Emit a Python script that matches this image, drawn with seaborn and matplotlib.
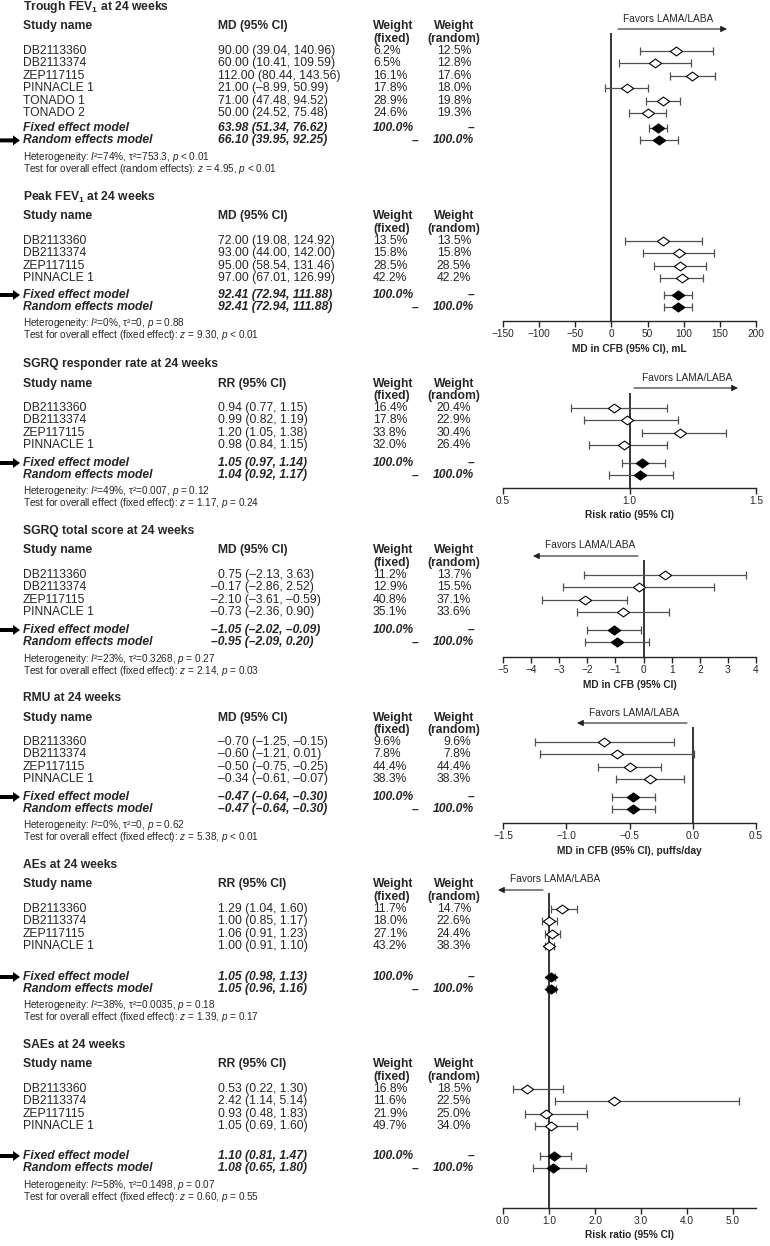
import numpy as np
import pandas as pd
import matplotlib
matplotlib.use("Agg")
import matplotlib.pyplot as plt
import seaborn as sns
from matplotlib.path import Path
from matplotlib.patches import FancyArrow

sns.set_style("ticks")
plt.rcParams["font.family"] = ["Liberation Sans", "DejaVu Sans"]
plt.rcParams["mathtext.fontset"] = "custom"
plt.rcParams["mathtext.rm"] = "Liberation Sans"
plt.rcParams["mathtext.it"] = "Liberation Sans:italic"
plt.rcParams["mathtext.bf"] = "Liberation Sans:bold"

# ---------------------------
# Data
# ---------------------------
studies4 = ["DB2113360", "DB2113374", "ZEP117115", "PINNACLE 1"]
studies6 = studies4 + ["TONADO 1", "TONADO 2"]

trough_est = [90.00, 60.00, 112.00, 21.00, 71.00, 50.00]
trough_lo = [39.04, 10.41, 80.44, -8.99, 47.48, 24.52]
trough_hi = [140.96, 109.59, 143.56, 50.99, 94.52, 75.48]
trough_wf = [6.2, 6.5, 16.1, 17.8, 28.9, 24.6]
trough_wr = [12.5, 12.8, 17.6, 18.0, 19.8, 19.3]
trough_pool = [(63.98, 51.34, 76.62), (66.10, 39.95, 92.25)]

peak_est = [72.00, 93.00, 95.00, 97.00]
peak_lo = [19.08, 44.00, 58.54, 67.01]
peak_hi = [124.92, 142.00, 131.46, 126.99]
peak_wf = [13.5, 15.8, 28.5, 42.2]
peak_wr = [13.5, 15.8, 28.5, 42.2]
peak_pool = [(92.41, 72.94, 111.88), (92.41, 72.94, 111.88)]

resp_est = [0.94, 0.99, 1.20, 0.98]
resp_lo = [0.77, 0.82, 1.05, 0.84]
resp_hi = [1.15, 1.19, 1.38, 1.15]
resp_wf = [16.4, 17.8, 33.8, 32.0]
resp_wr = [20.4, 22.9, 30.4, 26.4]
resp_pool = [(1.05, 0.97, 1.14), (1.04, 0.92, 1.17)]

sgrq_est = [0.75, -0.17, -2.10, -0.73]
sgrq_lo = [-2.13, -2.86, -3.61, -2.36]
sgrq_hi = [3.63, 2.52, -0.59, 0.90]
sgrq_wf = [11.2, 12.9, 40.8, 35.1]
sgrq_wr = [13.7, 15.5, 37.1, 33.6]
sgrq_pool = [(-1.05, -2.02, -0.09), (-0.95, -2.09, 0.20)]

rmu_est = [-0.70, -0.60, -0.50, -0.34]
rmu_lo = [-1.25, -1.21, -0.75, -0.61]
rmu_hi = [-0.15, 0.01, -0.25, -0.07]
rmu_wf = [9.6, 7.8, 44.4, 38.3]
rmu_wr = [9.6, 7.8, 44.4, 38.3]
rmu_pool = [(-0.47, -0.64, -0.30), (-0.47, -0.64, -0.30)]

ae_est = [1.29, 1.00, 1.06, 1.00]
ae_lo = [1.04, 0.85, 0.91, 0.91]
ae_hi = [1.60, 1.17, 1.23, 1.10]
ae_wf = [11.7, 18.0, 27.1, 43.2]
ae_wr = [14.7, 22.6, 24.4, 38.3]
ae_pool = [(1.05, 0.98, 1.13), (1.05, 0.96, 1.16)]

sae_est = [0.53, 2.42, 0.93, 1.05]
sae_lo = [0.22, 1.14, 0.48, 0.69]
sae_hi = [1.30, 5.14, 1.83, 1.60]
sae_wf = [16.8, 11.6, 21.9, 49.7]
sae_wr = [18.5, 22.5, 25.0, 34.0]
sae_pool = [(1.10, 0.81, 1.47), (1.08, 0.65, 1.80)]

titles = [
    r"Trough FEV$_\mathbf{1}$ at 24 weeks",
    r"Peak FEV$_\mathbf{1}$ at 24 weeks",
    "SGRQ responder rate at 24 weeks",
    "SGRQ total score at 24 weeks",
    "RMU at 24 weeks",
    "AEs at 24 weeks",
    "SAEs at 24 weeks",
]
measures = ["MD (95% CI)", "MD (95% CI)", "RR (95% CI)", "MD (95% CI)",
            "MD (95% CI)", "RR (95% CI)", "RR (95% CI)"]
heterogeneity = [
    r"Heterogeneity: $I$²=74%, τ²=753.3, $p$ < 0.01",
    r"Heterogeneity: $I$²=0%, τ²=0, $p$ = 0.88",
    r"Heterogeneity: $I$²=49%, τ²=0.007, $p$ = 0.12",
    r"Heterogeneity: $I$²=23%, τ²=0.3268, $p$ = 0.27",
    r"Heterogeneity: $I$²=0%, τ²=0, $p$ = 0.62",
    r"Heterogeneity: $I$²=38%, τ²=0.0035, $p$ = 0.18",
    r"Heterogeneity: $I$²=58%, τ²=0.1498, $p$ = 0.07",
]
overall = [
    r"Test for overall effect (random effects): $z$ = 4.95, $p$ < 0.01",
    r"Test for overall effect (fixed effect): $z$ = 9.30, $p$ < 0.01",
    r"Test for overall effect (fixed effect): $z$ = 1.17, $p$ = 0.24",
    r"Test for overall effect (fixed effect): $z$ = 2.14, $p$ = 0.03",
    r"Test for overall effect (fixed effect): $z$ = 5.38, $p$ < 0.01",
    r"Test for overall effect (fixed effect): $z$ = 1.39, $p$ = 0.17",
    r"Test for overall effect (fixed effect): $z$ = 0.60, $p$ = 0.55",
]

sections = [
    dict(names=studies6, est=trough_est, lo=trough_lo, hi=trough_hi, wf=trough_wf, wr=trough_wr, pool=trough_pool),
    dict(names=studies4, est=peak_est, lo=peak_lo, hi=peak_hi, wf=peak_wf, wr=peak_wr, pool=peak_pool),
    dict(names=studies4, est=resp_est, lo=resp_lo, hi=resp_hi, wf=resp_wf, wr=resp_wr, pool=resp_pool),
    dict(names=studies4, est=sgrq_est, lo=sgrq_lo, hi=sgrq_hi, wf=sgrq_wf, wr=sgrq_wr, pool=sgrq_pool),
    dict(names=studies4, est=rmu_est, lo=rmu_lo, hi=rmu_hi, wf=rmu_wf, wr=rmu_wr, pool=rmu_pool),
    dict(names=studies4, est=ae_est, lo=ae_lo, hi=ae_hi, wf=ae_wf, wr=ae_wr, pool=ae_pool),
    dict(names=studies4, est=sae_est, lo=sae_lo, hi=sae_hi, wf=sae_wf, wr=sae_wr, pool=sae_pool),
]

# layout (pixels from top)
sec_top = [7, 197, 364, 531, 698, 865, 1045]
sec_fixed = [128, 295, 463, 630, 797, 977, 1156]
arrow_row = ["random", "fixed", "fixed", "fixed", "fixed", "fixed", "fixed"]
ROW = 12.4

W, H = 770, 1246
fig = plt.figure(figsize=(W / 100, H / 100), dpi=100)
tax = fig.add_axes([0, 0, 1, 1])
tax.set_xlim(0, W)
tax.set_ylim(H, 0)
tax.axis("off")

FS = 8.7
FS_SMALL = 7.2


def fmt(v):
    return f"{v:.2f}".replace("-", "–")


def ci_text(e, l, h):
    return f"{fmt(e)} ({fmt(l)}, {fmt(h)})"


def row_ys(i):
    n = len(sections[i]["names"])
    ys = [sec_top[i] + 44 + ROW * k for k in range(n)]
    return ys, sec_fixed[i], sec_fixed[i] + ROW


# ---------------------------
# Left table
# ---------------------------
for i, s in enumerate(sections):
    top = sec_top[i]
    ys, yf, yr = row_ys(i)
    mixed = min(s["est"]) < 0 < max(s["est"])
    tax.text(23, top, titles[i], fontsize=FS, fontweight="bold", va="center")
    hy = top + 19.5
    tax.text(23, hy, "Study name", fontsize=FS, fontweight="bold", va="center")
    tax.text(218, hy, measures[i], fontsize=FS, fontweight="bold", va="center")
    tax.text(373, hy, "Weight", fontsize=FS, fontweight="bold", va="center")
    tax.text(454, hy, "Weight", fontsize=FS, fontweight="bold", va="center", ha="center")
    tax.text(373, hy + 12.5, "(fixed)", fontsize=FS, fontweight="bold", va="center")
    tax.text(454, hy + 12.5, "(random)", fontsize=FS, fontweight="bold", va="center", ha="center")

    for k, name in enumerate(s["names"]):
        e = s["est"][k]
        x_md = 211 if (mixed and e < 0) else 218
        tax.text(23, ys[k], name, fontsize=FS, va="center")
        tax.text(x_md, ys[k], ci_text(e, s["lo"][k], s["hi"][k]), fontsize=FS, va="center")
        tax.text(373, ys[k], f"{s['wf'][k]:.1f}%", fontsize=FS, va="center")
        tax.text(471, ys[k], f"{s['wr'][k]:.1f}%", fontsize=FS, va="center", ha="right")

    bi = dict(fontsize=FS, fontweight="bold", fontstyle="italic", va="center")
    (fe, fl, fh), (re_, rl, rh) = s["pool"]
    x_f = 211 if (mixed and fe < 0) else 218
    x_r = 211 if (mixed and re_ < 0) else 218
    tax.text(23, yf, "Fixed effect model", **bi)
    tax.text(x_f, yf, ci_text(fe, fl, fh), **bi)
    tax.text(373, yf, "100.0%", **bi)
    tax.text(474, yf, "–", ha="right", **bi)
    tax.text(23, yr, "Random effects model", **bi)
    tax.text(x_r, yr, ci_text(re_, rl, rh), **bi)
    tax.text(415, yr, "–", ha="center", **bi)
    tax.text(474, yr, "100.0%", ha="right", **bi)

    tax.text(23, yf + 28.5, heterogeneity[i], fontsize=FS_SMALL, va="center")
    tax.text(23, yf + 40.5, overall[i], fontsize=FS_SMALL, va="center")

    ay = yr if arrow_row[i] == "random" else yf
    tax.add_patch(FancyArrow(0, ay, 20, 0, width=4, head_width=10, head_length=7,
                             length_includes_head=True, color="black", lw=0))

# ---------------------------
# Forest panels
# ---------------------------
panels = [
    dict(secs=[0, 1], xlim=(-150, 200), ticks=list(range(-150, 201, 50)), dec=0, ref=0,
         label="MD in CFB (95% CI), mL", top=33, spine=321,
         fav=(668, 19, 618, 727, 29)),
    dict(secs=[2], xlim=(0.5, 1.5), ticks=[0.5, 1.0, 1.5], dec=1, ref=1,
         label="Risk ratio (95% CI)", top=393, spine=488,
         fav=(687, 378, 634, 738, 388)),
    dict(secs=[3], xlim=(-5, 4), ticks=list(range(-5, 5)), dec=0, ref=0,
         label="MD in CFB (95% CI)", top=560, spine=657,
         fav=(590, 545, 638, 533, 556)),
    dict(secs=[4], xlim=(-1.5, 0.5), ticks=[-1.5, -1.0, -0.5, 0.0, 0.5], dec=1, ref=0,
         label="MD in CFB (95% CI), puffs/day", top=727, spine=823,
         fav=(634, 713, 687, 577, 723)),
    dict(secs=[5, 6], xlim=(0, 5.5), ticks=[0, 1, 2, 3, 4, 5], dec=1, ref=1,
         label="Risk ratio (95% CI)", top=893, spine=1208,
         fav=(555, 879, 543, 498, 890)),
]

diamond = Path([(-1, 0), (0, 0.72), (1, 0), (0, -0.72), (-1, 0)],
               [Path.MOVETO, Path.LINETO, Path.LINETO, Path.LINETO, Path.CLOSEPOLY])

X0, X1 = 503, 756
for p in panels:
    ax = fig.add_axes([X0 / W, 1 - p["spine"] / H, (X1 - X0) / W, (p["spine"] - p["top"]) / H])
    ax.set_facecolor("none")
    ax.set_xlim(*p["xlim"])
    ax.set_ylim(p["spine"], p["top"])

    study_rows, pooled_rows = [], []
    for i in p["secs"]:
        s = sections[i]
        ys, yf, yr = row_ys(i)
        for k in range(len(s["names"])):
            study_rows.append((s["est"][k], s["lo"][k], s["hi"][k], ys[k]))
        for (e, l, h), y in zip(s["pool"], [yf, yr]):
            pooled_rows.append((e, l, h, y))
    sdf = pd.DataFrame(study_rows, columns=["est", "lo", "hi", "y"])
    pdf = pd.DataFrame(pooled_rows, columns=["est", "lo", "hi", "y"])

    for df in (sdf, pdf):
        ax.errorbar(df["est"], df["y"], xerr=[df["est"] - df["lo"], df["hi"] - df["est"]],
                    fmt="none", ecolor="#505050", elinewidth=0.9, capsize=3.2, capthick=0.9, zorder=2)
    ax.axvline(p["ref"], color="black", lw=1.1, zorder=1)
    sns.scatterplot(data=sdf, x="est", y="y", ax=ax, marker=diamond, s=78,
                    color="white", edgecolor="black", linewidth=0.8, zorder=3)
    sns.scatterplot(data=pdf, x="est", y="y", ax=ax, marker=diamond, s=82,
                    color="black", edgecolor="black", linewidth=0.8, zorder=3)

    ax.set_ylim(p["spine"], p["top"])
    ax.set_yticks([])
    ax.set_ylabel("")
    for sp in ["left", "right", "top"]:
        ax.spines[sp].set_visible(False)
    ax.spines["bottom"].set_linewidth(1.0)
    ax.set_xticks(p["ticks"])
    if p["dec"]:
        ax.set_xticklabels([f"{t:.1f}".replace("-", "\u2212") for t in p["ticks"]])
    else:
        ax.set_xticklabels([f"{t:d}".replace("-", "\u2212") for t in p["ticks"]])
    ax.tick_params(axis="x", direction="out", length=4, width=1.0, labelsize=7.3, pad=2)
    ax.set_xlabel(p["label"], fontsize=7.3, fontweight="bold", labelpad=3)

    tx, ty, ax0, ax1, ay = p["fav"]
    tax.text(tx, ty, "Favors LAMA/LABA", fontsize=7.3, ha="center", va="center")
    tax.annotate("", xy=(ax1, ay), xytext=(ax0, ay),
                 arrowprops=dict(arrowstyle="-|>", color="#222222", lw=0.8,
                                 mutation_scale=9, shrinkA=0, shrinkB=0))

fig.savefig("out.png", dpi=100)
